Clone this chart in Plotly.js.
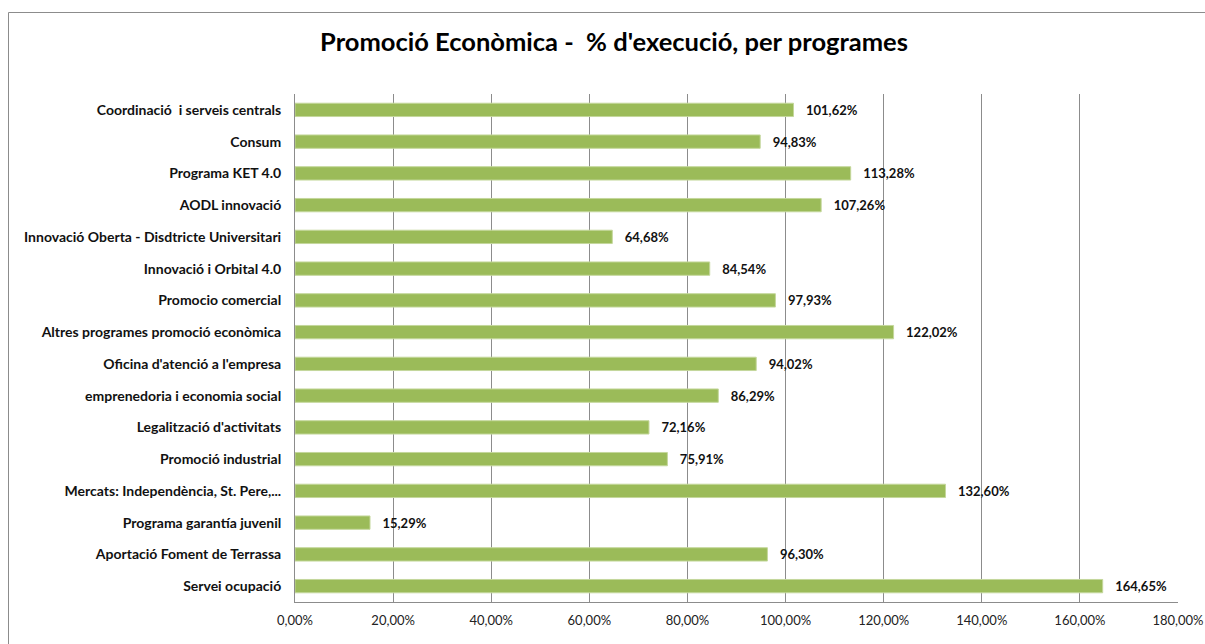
<!DOCTYPE html>
<html>
<head>
<meta charset="utf-8">
<script src="https://cdn.plot.ly/plotly-3.0.1.min.js"></script>
<style>
  html, body { margin: 0; padding: 0; background: #fff; }
  #chart { width: 1205px; height: 644px; }
</style>
</head>
<body>
<div id="chart"></div>
<script>
// Promoció Econòmica - % d'execució per programes (horizontal bars)

const programes = [
  'Coordinació\u00a0 i serveis centrals',
  'Consum',
  'Programa KET 4.0',
  'AODL innovació',
  'Innovació Oberta - Disdtricte Universitari',
  'Innovació i Orbital 4.0',
  'Promocio comercial',
  'Altres programes promoció econòmica',
  "Oficina d'atenció a l'empresa",
  'emprenedoria i economia social',
  "Legalització d'activitats",
  'Promoció industrial',
  'Mercats: Independència, St. Pere,...',
  'Programa garantía juvenil',
  'Aportació Foment de Terrassa',
  'Servei ocupació'
];

const execucio = [101.62, 94.83, 113.28, 107.26, 64.68, 84.54, 97.93, 122.02,
                  94.02, 86.29, 72.16, 75.91, 132.60, 15.29, 96.30, 164.65];

const xTicks = [0, 20, 40, 60, 80, 100, 120, 140, 160, 180];

const FONT = 'Lato, "Open Sans", sans-serif';

function pct(v) {
  return v.toFixed(2).replace('.', ',') + '%';
}

// plot area in pixels, used to place the outer frame in paper coords
const L = 295, R = 27, T = 94, B = 42, W = 1205, H = 644;
const pw = W - L - R, ph = H - T - B;
const px = x => (x - L) / pw;
const py = y => (H - B - y) / ph;

const trace = {
  type: 'bar',
  orientation: 'h',
  x: execucio,
  y: programes,
  marker: {color: '#9bbb59', line: {color: '#c4d79b', width: 1}},
  text: execucio.map(v => '\u00a0\u00a0\u00a0' + pct(v)),
  textposition: 'outside',
  constraintext: 'none',
  cliponaxis: false,
  textfont: {family: FONT, size: 13, color: '#111', weight: 'bold'},
  hoverinfo: 'skip'
};

const layout = {
  width: W,
  height: H,
  margin: {l: L, r: R, t: T, b: B},
  paper_bgcolor: '#fff',
  plot_bgcolor: '#fff',
  separators: ',.',
  showlegend: false,
  bargap: 0.58,
  font: {family: FONT, color: '#111'},
  title: {
    text: "Promoció Econòmica -\u00a0 % d'execució, per programes",
    font: {family: FONT, size: 25.5, color: '#000', weight: 'bold'},
    x: 614 / W, xref: 'container', xanchor: 'center',
    y: 1 - 42 / H, yref: 'container', yanchor: 'middle'
  },
  xaxis: {
    range: [0, 180],
    tickvals: xTicks,
    ticktext: xTicks.map(pct),
    tickfont: {family: FONT, size: 13, color: '#222'},
    showgrid: true,
    gridcolor: '#8c8c8c',
    gridwidth: 1,
    zeroline: false,
    showline: true,
    linecolor: '#8c8c8c',
    linewidth: 1,
    ticks: '',
    ticklabelstandoff: 6,
    fixedrange: true
  },
  yaxis: {
    autorange: 'reversed',
    tickfont: {family: FONT, size: 14, color: '#111', weight: 'bold'},
    showgrid: false,
    zeroline: false,
    showline: true,
    linecolor: '#8c8c8c',
    linewidth: 1,
    ticks: '',
    ticklabelstandoff: 10,
    fixedrange: true
  },
  shapes: [{
    type: 'rect',
    xref: 'paper', yref: 'paper',
    x0: px(8.5), x1: px(1215), y0: py(12.5), y1: py(660),
    line: {color: '#8c8c8c', width: 1},
    fillcolor: 'rgba(0,0,0,0)',
    layer: 'below'
  }]
};

Plotly.newPlot('chart', [trace], layout, {displayModeBar: false, staticPlot: true});
</script>
</body>
</html>
